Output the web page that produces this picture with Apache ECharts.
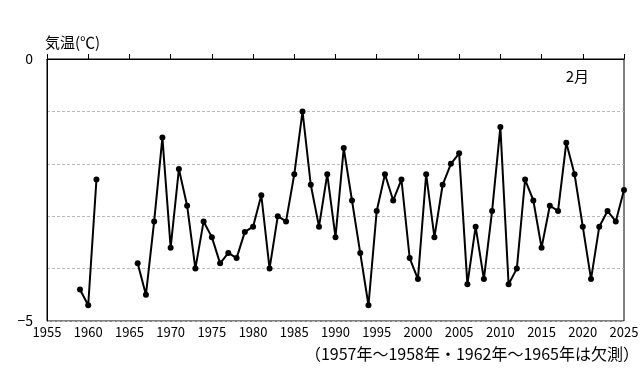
<!DOCTYPE html>
<html>
<head>
<meta charset="utf-8">
<script src="https://cdn.jsdelivr.net/npm/echarts@6/dist/echarts.min.js"></script>
<style>
    html, body { margin: 0; padding: 0; background: #fff; }
    #chart { width: 644px; height: 377px; }
</style>
</head>
<body>
<div id="chart"></div>
<script>
// 2月の平均気温 (1957-1958, 1962-1965 は欠測 → null)
const years = [
    1959, 1960, 1961, 1962, 1963, 1964, 1965, 1966, 1967, 1968, 1969,
    1970, 1971, 1972, 1973, 1974, 1975, 1976, 1977, 1978, 1979,
    1980, 1981, 1982, 1983, 1984, 1985, 1986, 1987, 1988, 1989,
    1990, 1991, 1992, 1993, 1994, 1995, 1996, 1997, 1998, 1999,
    2000, 2001, 2002, 2003, 2004, 2005, 2006, 2007, 2008, 2009,
    2010, 2011, 2012, 2013, 2014, 2015, 2016, 2017, 2018, 2019,
    2020, 2021, 2022, 2023, 2024, 2025,
]
const temps = [
    -4.4, -4.7, -2.3, null, null, null, null, -3.9, -4.5, -3.1, -1.5,
    -3.6, -2.1, -2.8, -4.0, -3.1, -3.4, -3.9, -3.7, -3.8, -3.3,
    -3.2, -2.6, -4.0, -3.0, -3.1, -2.2, -1.0, -2.4, -3.2, -2.2,
    -3.4, -1.7, -2.7, -3.7, -4.7, -2.9, -2.2, -2.7, -2.3, -3.8,
    -4.2, -2.2, -3.4, -2.4, -2.0, -1.8, -4.3, -3.2, -4.2, -2.9,
    -1.3, -4.3, -4.0, -2.3, -2.7, -3.6, -2.8, -2.9, -1.6, -2.2,
    -3.2, -4.2, -3.2, -2.9, -3.1, -2.5,
]
const yTickLabels = { '0': '0', '-5': '−5' }

const font = "'Noto Sans CJK JP', 'Noto Sans', sans-serif"
const chart = echarts.init(document.getElementById('chart'), null, { renderer: 'canvas' })

chart.setOption({
    animation: false,
    grid: {
        left: 47,
        right: 20,
        top: 59,
        bottom: 56,
        show: true,
        borderColor: '#000',
        borderWidth: 1,
        backgroundColor: 'transparent',
    },
    xAxis: {
        type: 'value',
        min: 1955,
        max: 2025,
        interval: 5,
        axisLine: { lineStyle: { color: '#000', width: 1 } },
        axisTick: { inside: true, length: 5, lineStyle: { color: '#000' } },
        axisLabel: {
            color: '#000',
            fontFamily: font,
            fontSize: 13,
            margin: 5,
            formatter: v => String(v),
        },
        splitLine: { show: false },
    },
    yAxis: {
        type: 'value',
        min: -5,
        max: 0,
        interval: 1,
        name: '気温(℃)',
        nameLocation: 'end',
        nameGap: 9,
        nameTextStyle: {
            color: '#000',
            fontFamily: font,
            fontSize: 15,
            align: 'left',
            padding: [0, 0, 0, -2],
        },
        axisLine: { lineStyle: { color: '#000', width: 1 } },
        axisTick: { show: false },
        axisLabel: {
            color: '#000',
            fontFamily: font,
            fontSize: 14,
            margin: 14,
            formatter: v => yTickLabels[String(v)] ?? '',
        },
        splitLine: { lineStyle: { color: '#bbb', type: [3, 2], width: 1 } },
    },
    graphic: [
        {
            type: 'text',
            right: 55,
            top: 69,
            style: { text: '2月', fill: '#000', font: `15px ${font}` },
        },
        {
            type: 'text',
            right: 5,
            top: 346,
            style: { text: '（1957年～1958年・1962年～1965年は欠測）', fill: '#000', font: `16px ${font}` },
        },
    ],
    series: [
        {
            type: 'line',
            data: years.map((y, i) => [y, temps[i] === null ? '-' : temps[i]]),
            symbol: 'circle',
            symbolSize: 6,
            connectNulls: false,
            lineStyle: { color: '#000', width: 2 },
            itemStyle: { color: '#000' },
        },
    ],
})
</script>
</body>
</html>
